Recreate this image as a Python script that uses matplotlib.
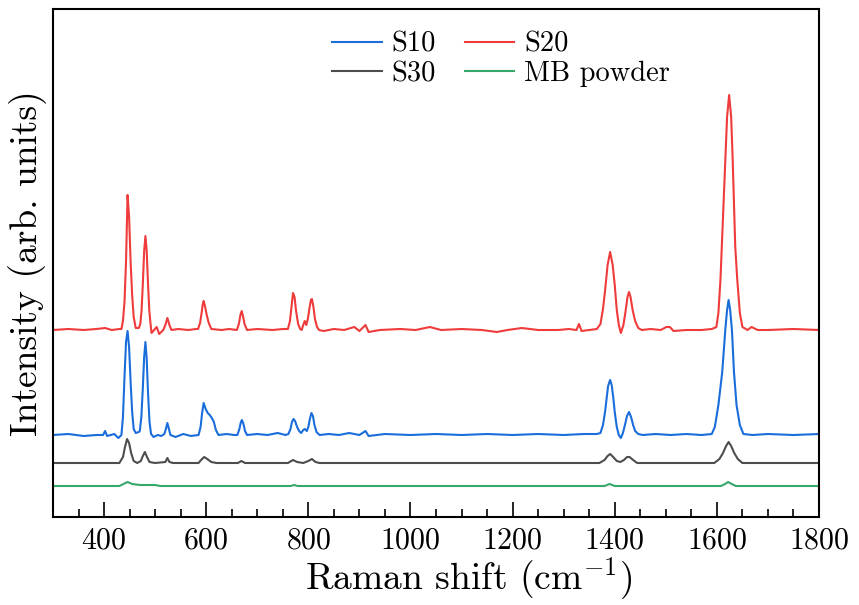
import matplotlib
matplotlib.use("Agg")
import matplotlib.pyplot as plt
from matplotlib.ticker import MultipleLocator

plt.rcParams['font.family'] = ['cmr10', 'DejaVu Serif']
plt.rcParams['mathtext.fontset'] = 'cm'
plt.rcParams['axes.formatter.use_mathtext'] = True

# ---------------- data (offset spectra, arb. units) ----------------
x_s20 = [300, 330, 360, 385, 402, 415, 430, 434, 437, 440, 443, 446, 449, 452, 455, 458, 462,
         468, 471, 473.5, 476, 478.5, 481, 483.5, 486, 488.5, 491, 493, 498, 503, 508, 516, 520,
         524, 528, 532, 545, 565, 580, 584, 588, 591, 593, 595, 598, 601, 605, 610, 630, 645,
         660, 664, 667, 669.5, 672, 675, 680, 700, 730, 750, 760, 764, 767, 770, 773, 776, 780,
         784, 787, 790, 793, 796, 799, 802, 805, 807, 810, 813, 817, 821, 830, 850, 870, 890, 900,
         912, 918, 940, 980, 1010, 1038, 1060, 1100, 1140, 1169, 1190, 1218, 1250, 1290, 1310,
         1325, 1330, 1335, 1350, 1365, 1372, 1377, 1381, 1386, 1391, 1396, 1400, 1404, 1408,
         1412, 1417, 1421, 1425, 1428, 1431, 1435, 1440, 1446, 1453, 1470, 1490, 1501, 1508,
         1515, 1540, 1570, 1590, 1599, 1603, 1607, 1612, 1616.5, 1620, 1624, 1628, 1631, 1636,
         1640, 1645, 1650, 1660, 1668, 1680, 1700, 1750, 1800]
y_s20 = [187, 188, 187, 188, 189, 187, 188, 188, 196, 215, 255, 322, 300, 255, 222, 200, 189,
         189, 193, 207, 234, 266, 281, 266, 234, 207, 193, 184, 187, 190, 183, 187, 192,
         199, 192, 187, 188, 187, 188, 188, 194, 204, 212, 216, 210, 202, 194, 188, 187, 188,
         187, 193, 202, 206, 201, 193, 187, 188, 187, 188, 188, 196, 210, 224, 220, 206, 193,
         188, 187, 192, 196, 192, 198, 208, 217, 218, 210, 198, 190, 187, 186, 188, 187, 190, 186,
         192, 185, 187, 188, 187, 190, 187, 188, 187, 185, 187, 189, 187, 187, 188,
         187, 193, 186, 187, 188, 193, 208, 226, 252, 265, 252, 232, 207, 192,
         184, 192, 205, 220, 225, 220, 207, 196, 189, 187, 188, 187, 190, 190,
         186, 187, 187, 188, 190, 204, 237, 300, 357, 400, 422, 400, 357, 270,
         237, 204, 190, 187, 190, 187, 187, 188, 187]

x_s10 = [300, 330, 360, 385, 398, 402, 406, 420, 428, 434, 437, 440, 443, 446, 449, 452, 455,
         458, 462, 468, 470, 473, 476, 478.5, 481, 483.5, 486, 489, 492, 497, 505, 512, 518, 521,
         524, 527, 530, 540, 555, 570, 585, 589, 592, 595, 599, 603, 607, 611, 615, 619, 624,
         640, 655, 661, 665, 668, 670, 673, 676, 680, 700, 720, 740, 755, 761, 765, 768, 771,
         774, 778, 782, 786, 790, 793, 797, 800, 803, 806, 809, 812, 816, 822, 840, 860, 880,
         900, 912, 918, 950, 1000, 1050, 1100, 1150, 1200, 1250, 1300, 1340, 1365, 1372, 1377,
         1381, 1384, 1387, 1391, 1394, 1397, 1400, 1404, 1408, 1412, 1416, 1420, 1424, 1428,
         1432, 1436, 1440, 1446, 1455, 1480, 1510, 1540, 1570, 1590, 1596, 1603, 1610.5,
         1616.5, 1620, 1623, 1626, 1629.5, 1633.5, 1638.5, 1645, 1652, 1670, 1700, 1750, 1800]
y_s10 = [82, 83, 81, 82, 82, 86, 81, 83, 79, 82, 100, 140, 175, 186, 170, 135, 105,
         88, 84, 85, 86, 100, 130, 160, 175, 158, 125, 95, 83, 80, 82, 81, 83, 88,
         94, 88, 82, 80, 83, 81, 82, 90, 104, 114, 108, 104, 102, 99, 95, 87, 82,
         83, 82, 82, 88, 95, 97, 93, 86, 82, 83, 82, 84, 82, 83, 88, 95, 98,
         96, 90, 86, 84, 87, 88, 86, 90, 98, 104, 101, 92, 85, 82, 83, 82, 84,
         82, 86, 81, 83, 82, 83, 82, 83, 82, 83, 82, 83, 83, 84, 92,
         105, 118, 131, 137, 132, 120, 105, 90, 82, 79, 84, 92, 101, 105,
         100, 92, 86, 83, 82, 83, 82, 83, 82, 83, 90, 112, 145,
         187, 207, 217, 207, 187, 145, 112, 92, 83, 82, 83, 82, 83]

x_s30 = [300, 430, 437, 441, 445, 449, 453, 458, 465, 472, 476, 480, 484, 489, 500, 520, 524,
         528, 535, 585, 590, 596, 602, 610, 620, 662, 669, 676, 760, 770, 778, 790, 800, 807,
         814, 822, 1370, 1380, 1386, 1391, 1397, 1404, 1411, 1418, 1424, 1429, 1436, 1444,
         1595, 1605, 1612, 1618, 1623, 1628, 1634, 1641, 1650, 1800]
y_s30 = [54, 54, 60, 70, 78, 74, 64, 56, 54, 56, 61, 65, 60, 55, 54, 55, 59,
         55, 54, 54, 57, 60, 58, 55, 54, 54, 56, 54, 54, 57, 55, 54, 56, 58,
         55, 54, 54, 57, 61, 63, 60, 56, 55, 57, 60, 60, 57, 54,
         54, 58, 64, 71, 75, 71, 64, 58, 54, 54]

x_mb = [300, 430, 438, 446, 455, 470, 500, 510, 765, 772, 779, 1380, 1390, 1400, 1608, 1616,
        1622, 1629, 1637, 1800]
y_mb = [31, 31, 33, 35, 33, 32, 32, 31, 31, 32, 31, 31, 33, 31, 31, 33,
        35, 33, 31, 31]

labels = ['S10', 'S20', 'S30', 'MB powder']
colors = ['#1a6ddb', '#ef3b3b', '#4d4d4d', '#35a86a']

# ---------------- figure ----------------
fig = plt.figure(figsize=(8.59, 6.05), dpi=100)
ax = fig.add_axes([53 / 859, 1 - 517 / 605, (819 - 53) / 859, (517 - 9) / 605])

h10, = ax.plot(x_s10, y_s10, color=colors[0], lw=1.5, label=labels[0])
h20, = ax.plot(x_s20, y_s20, color=colors[1], lw=1.5, label=labels[1])
h30, = ax.plot(x_s30, y_s30, color=colors[2], lw=1.5, label=labels[2])
hmb, = ax.plot(x_mb, y_mb, color=colors[3], lw=1.5, label=labels[3])

ax.set_xlim(300, 1800)
ax.set_ylim(0, 508)
ax.xaxis.set_major_locator(MultipleLocator(200))
ax.xaxis.set_minor_locator(MultipleLocator(50))
ax.tick_params(axis='x', which='both', direction='in', top=False, labelsize=21.5, pad=7)
ax.tick_params(axis='x', which='major', length=11, width=1.2)
ax.tick_params(axis='x', which='minor', length=5.5, width=1.2)
ax.set_yticks([])
for s in ax.spines.values():
    s.set_linewidth(1.5)

ax.set_xlabel('Raman shift (cm$^{-1}$)', fontsize=27, labelpad=1)
ax.xaxis.label.set_x(0.542)
ax.set_ylabel('Intensity (arb. units)', fontsize=27, labelpad=4)

ax.legend([h10, h30, h20, hmb], ['S10', 'S30', 'S20', 'MB powder'], ncol=2,
          loc='upper center', bbox_to_anchor=(0.585, 0.99), frameon=False,
          fontsize=20.5, handlelength=1.75, handletextpad=0.35, columnspacing=1.0,
          labelspacing=0.12, borderaxespad=0.2)

fig.savefig('out.png', dpi=100)
